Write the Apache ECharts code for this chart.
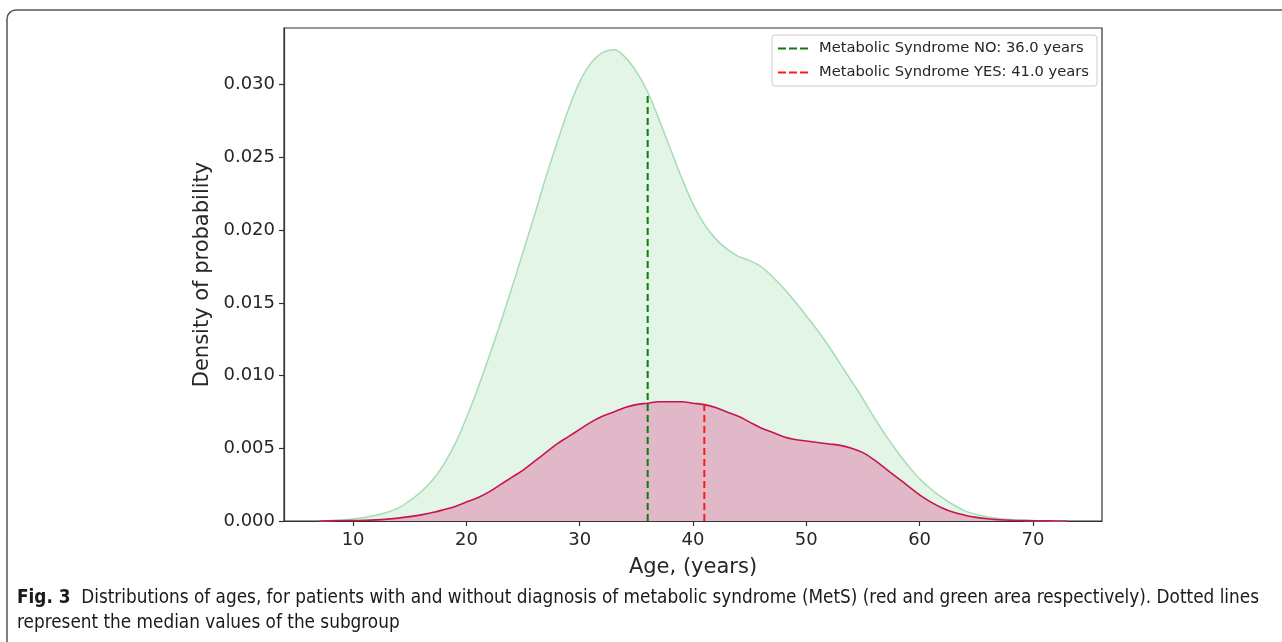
<!DOCTYPE html>
<html>
<head>
<meta charset="utf-8">
<script src="https://cdn.jsdelivr.net/npm/echarts@6/dist/echarts.min.js"></script>
<style>
html,body{margin:0;padding:0;background:#fff;}
#chart{width:1282px;height:642px;}
</style>
</head>
<body>
<div id="chart"></div>
<script>
// Data
const ages = [7,8,9,10,11,12,13,14,15,16,17,18,19,20,21,22,23,24,25,26,27,28,29,30,31,32,33,34,35,36,37,38,39,40,41,42,43,44,45,46,47,48,49,50,51,52,53,54,55,56,57,58,59,60,61,62,63,64,65,66,67,68,69,70,71,72,73];
const densityNo = [0.00002,0.00004,0.00008,0.00014,0.00024,0.0004,0.0006,0.0009,0.0014,0.002,0.0028,0.0039,0.0053,0.0071,0.0091,0.0113,0.0136,0.0160,0.0185,0.0210,0.0236,0.0260,0.0283,0.0302,0.0315,0.0322,0.0324,0.0319,0.0309,0.0295,0.0276,0.0256,0.0236,0.0218,0.0204,0.0194,0.0187,0.0182,0.0179,0.0175,0.0168,0.0160,0.0151,0.0141,0.0131,0.0120,0.0108,0.0096,0.0084,0.0071,0.0059,0.0048,0.0038,0.0029,0.0022,0.0016,0.0011,0.0007,0.00045,0.00028,0.00017,0.0001,0.00005,0.00003,0.00001,0.000005,0];
const densityYes = [0,0.00001,0.00002,0.00003,0.00005,0.00008,0.00013,0.0002,0.0003,0.00042,0.00058,0.00078,0.001,0.0013,0.0016,0.002,0.0025,0.003,0.0035,0.0041,0.0047,0.0053,0.0058,0.0063,0.0068,0.0072,0.0075,0.0078,0.008,0.0081,0.0082,0.0082,0.0082,0.0081,0.008,0.0078,0.0075,0.0072,0.0068,0.0064,0.0061,0.0058,0.0056,0.0055,0.0054,0.0053,0.0052,0.005,0.0047,0.0042,0.0036,0.003,0.0024,0.0018,0.0013,0.0009,0.0006,0.0004,0.00025,0.00015,0.00009,0.00005,0.00003,0.00002,0.00001,0.000005,0];
const medianNo = [36.0, 0.0295];
const medianYes = [41.0, 0.0080];
const xTicks = [10,20,30,40,50,60,70];
const yTicks = [0,0.005,0.010,0.015,0.020,0.025,0.030];
const legendNo = 'Metabolic Syndrome NO: 36.0 years';
const legendYes = 'Metabolic Syndrome YES: 41.0 years';
const captionBold = 'Fig. 3';
const captionLine1 = 'Distributions of ages, for patients with and without diagnosis of metabolic syndrome (MetS) (red and green area respectively). Dotted lines';
const captionLine2 = 'represent the median values of the subgroup';

const pair = (xs, ys) => xs.map((x, i) => [x, ys[i]]);
const dashIcon = 'path://M0,0h8v2h-8z M11,0h8v2h-8z M22,0h8v2h-8z';
const tickFont = {fontFamily: 'DejaVu Sans', fontSize: 18, color: '#262626'};
const capFont = 'Liberation Sans Narrow, DejaVu Sans Condensed, sans-serif';

const chart = echarts.init(document.getElementById('chart'), null, {renderer: 'canvas'});
chart.setOption({
  animation: false,
  backgroundColor: '#fff',
  grid: {left: 284, top: 28, width: 818, height: 493, show: true, borderColor: '#333', borderWidth: 1.2, backgroundColor: '#fff'},
  xAxis: {
    type: 'value', min: 3.9, max: 76.1,
    name: 'Age, (years)', nameLocation: 'middle', nameGap: 36,
    nameTextStyle: {fontFamily: 'DejaVu Sans', fontSize: 21, color: '#262626'},
    axisLine: {show: true, onZero: false, lineStyle: {color: '#333', width: 1.2}},
    axisTick: {show: true, length: 5, lineStyle: {color: '#333', width: 1.2}, customValues: xTicks},
    axisLabel: Object.assign({margin: 10, customValues: xTicks, formatter: v => String(v)}, tickFont),
    splitLine: {show: false}
  },
  yAxis: {
    type: 'value', min: 0, max: 0.0339,
    name: 'Density of probability', nameLocation: 'middle', nameGap: 70,
    nameTextStyle: {fontFamily: 'DejaVu Sans', fontSize: 21, color: '#262626'},
    axisLine: {show: true, lineStyle: {color: '#333', width: 1.2}},
    axisTick: {show: true, length: 5, lineStyle: {color: '#333', width: 1.2}, customValues: yTicks},
    axisLabel: Object.assign({margin: 9, customValues: yTicks, formatter: v => v.toFixed(3)}, tickFont),
    splitLine: {show: false}
  },
  legend: {
    data: [legendNo, legendYes],
    orient: 'vertical', top: 35,
    left: 772,
    itemWidth: 30, itemHeight: 2, itemGap: 9,
    icon: dashIcon,
    padding: [6, 8, 6, 6],
    borderColor: '#cccccc', borderWidth: 1, borderRadius: 3,
    backgroundColor: '#fff',
    textStyle: {fontFamily: 'DejaVu Sans', fontSize: 14.7, color: '#262626', padding: [0, 0, 0, 6]}
  },
  series: [
    {
      name: 'NO', type: 'line', data: pair(ages, densityNo), smooth: 0.4, showSymbol: false, symbol: 'none',
      lineStyle: {color: '#a7dcb2', width: 1.5},
      areaStyle: {color: '#e3f5e7', opacity: 1},
      z: 1
    },
    {
      name: 'YES', type: 'line', data: pair(ages, densityYes), smooth: 0.4, showSymbol: false, symbol: 'none',
      lineStyle: {color: '#c8144f', width: 1.6},
      areaStyle: {color: '#e0b8c7', opacity: 1},
      z: 2
    },
    {
      name: legendNo, type: 'line', data: [[medianNo[0], 0], [medianNo[0], medianNo[1]]],
      showSymbol: false, symbol: 'none', color: '#0a7d0a',
      lineStyle: {color: '#0a7d0a', width: 2, type: [7, 4]}, z: 3
    },
    {
      name: legendYes, type: 'line', data: [[medianYes[0], 0], [medianYes[0], medianYes[1]]],
      showSymbol: false, symbol: 'none', color: '#ff1a1a',
      lineStyle: {color: '#ff1a1a', width: 2, type: [7, 4]}, z: 3
    }
  ],
  graphic: [
    {
      type: 'rect', silent: true, z: 100,
      shape: {x: 7, y: 10, width: 1320, height: 700, r: 9},
      style: {fill: null, stroke: '#555', lineWidth: 1.5}
    },
    {
      type: 'text', left: 17, top: 589, z: 100,
      style: {
        text: '{b|' + captionBold + '}{n|  ' + captionLine1 + '}',
        rich: {
          b: {fontFamily: capFont, fontWeight: 'bold', fontSize: 18.8, fill: '#1a1a1a'},
          n: {fontFamily: capFont, fontSize: 18.8, fill: '#1a1a1a'}
        }
      }
    },
    {
      type: 'text', left: 17, top: 614, z: 100,
      style: {text: captionLine2, fontFamily: capFont, fontSize: 18.8, fill: '#1a1a1a'}
    }
  ]
});
</script>
</body>
</html>
